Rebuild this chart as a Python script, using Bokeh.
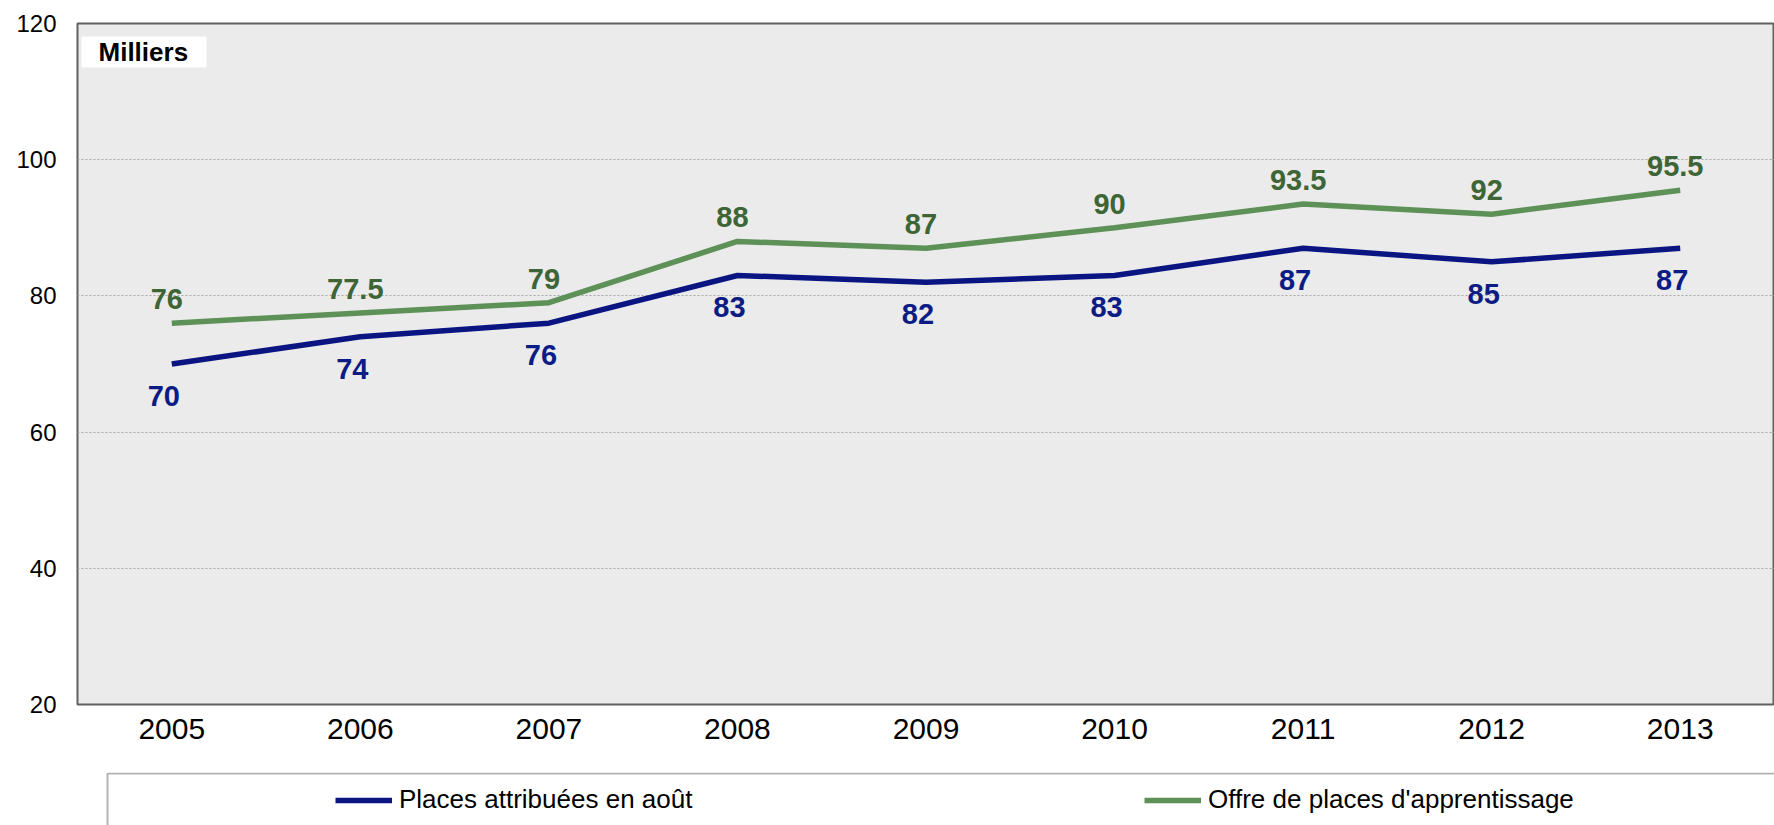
from bokeh.plotting import figure
from bokeh.layouts import column
from bokeh.models import (FactorRange, Range1d, FixedTicker, Legend, LegendItem,
                          Label, LabelSet, BoxAnnotation, ColumnDataSource)
from bokeh.embed import file_html
from bokeh.resources import INLINE
from bokeh.core.properties import value

# ---- data ----
years = ["2005", "2006", "2007", "2008", "2009", "2010", "2011", "2012", "2013"]
places = [70, 74, 76, 83, 82, 83, 87, 85, 87]
offre = [76, 77.5, 79, 88, 87, 90, 93.5, 92, 95.5]
places_labels = ["70", "74", "76", "83", "82", "83", "87", "85", "87"]
offre_labels = ["76", "77.5", "79", "88", "87", "90", "93.5", "92", "95.5"]
y_ticks = [20, 40, 60, 80, 100, 120]
grid_ticks = [40, 60, 80, 100]
series_names = ["Places attribuées en août", "Offre de places d'apprentissage"]
unit_label = "Milliers"

BLUE = "#0A1582"
BLUE_TXT = "#0C1C85"
GREEN = "#5E9157"
GREEN_TXT = "#3D6535"
FONT = "Liberation Sans"

src = ColumnDataSource(dict(year=years, places=places, offre=offre,
                            places_lbl=places_labels, offre_lbl=offre_labels))

W = 1774
H_MAIN = 772
H_LEG = 53
LEFT = 77

p = figure(width=W, height=H_MAIN,
           x_range=FactorRange(*years, range_padding=0),
           y_range=Range1d(20, 120),
           output_backend="svg", toolbar_location=None,
           min_border_left=LEFT, min_border_right=0,
           min_border_top=23, min_border_bottom=68)

p.background_fill_color = "#EBEBEB"
p.border_fill_color = "white"
p.outline_line_color = "#606060"
p.outline_line_width = 2

# grid
p.xgrid.grid_line_color = None
p.ygrid.ticker = FixedTicker(ticks=grid_ticks)
p.ygrid.grid_line_color = "#A6A6A6"
p.ygrid.grid_line_dash = "2 2"
p.ygrid.grid_line_width = 1

# axes
p.yaxis.ticker = FixedTicker(ticks=y_ticks)
p.yaxis.major_label_text_font = FONT
p.yaxis.major_label_text_font_size = "24px"
p.yaxis.major_label_text_color = "black"
p.yaxis.major_tick_line_color = None
p.yaxis.major_tick_out = 0
p.yaxis.major_tick_in = 0
p.yaxis.minor_tick_line_color = None
p.yaxis.minor_tick_out = 0
p.yaxis.axis_line_color = None
p.yaxis.major_label_standoff = 21

p.xaxis.major_label_text_font = FONT
p.xaxis.major_label_text_font_size = "30px"
p.xaxis.major_label_text_color = "black"
p.xaxis.major_tick_line_color = None
p.xaxis.major_tick_out = 0
p.xaxis.major_tick_in = 0
p.xaxis.minor_tick_line_color = None
p.xaxis.minor_tick_out = 0
p.xaxis.axis_line_color = None
p.xaxis.major_label_standoff = 14

# lines
r1 = p.line(x="year", y="places", source=src, line_color=BLUE, line_width=5.5)
r2 = p.line(x="year", y="offre", source=src, line_color=GREEN, line_width=5.5)

# data labels
p.add_layout(LabelSet(x="year", y="places", text="places_lbl", source=src,
                      x_offset=-8, y_offset=-32, text_align="center",
                      text_baseline="middle", text_font=value(FONT),
                      text_font_size="29px", text_font_style="bold",
                      text_color=BLUE_TXT))
p.add_layout(LabelSet(x="year", y="offre", text="offre_lbl", source=src,
                      x_offset=-5, y_offset=24, text_align="center",
                      text_baseline="middle", text_font=value(FONT),
                      text_font_size="29px", text_font_style="bold",
                      text_color=GREEN_TXT))

# "Milliers" box
p.add_layout(BoxAnnotation(left=4, right=129, top=668, bottom=637,
                           left_units="screen", right_units="screen",
                           top_units="screen", bottom_units="screen",
                           fill_color="white", fill_alpha=1, line_alpha=0))
p.add_layout(Label(x=21, y=652.5, x_units="screen", y_units="screen",
                   text=unit_label, text_font=FONT, text_font_size="26px",
                   text_font_style="bold", text_align="left",
                   text_baseline="middle", text_color="black"))

# ---- legend strip (frame aligned with the main plot's frame) ----
p2 = figure(width=W, height=H_LEG, x_range=Range1d(LEFT, W), y_range=Range1d(0, H_LEG),
            output_backend="svg", toolbar_location=None,
            x_axis_location=None, y_axis_location=None,
            min_border_left=LEFT, min_border_right=0,
            min_border_top=0, min_border_bottom=0)
p2.grid.visible = False
p2.outline_line_color = None
p2.background_fill_color = "white"
p2.border_fill_color = "white"

# legend proxies: same series, drawn out of this strip's view (values > H_LEG)
idx = list(range(len(years)))
lg1 = p2.line(x=idx, y=places, line_color=BLUE, line_width=5.5)
lg2 = p2.line(x=idx, y=offre, line_color=GREEN, line_width=5.5)

# legend frame (left and top edges visible, the rest runs off the page)
p2.add_layout(BoxAnnotation(left=107, right=W + 200, top=H_LEG - 1, bottom=-200,
                            fill_alpha=0, line_color="black", line_width=2))

legend = Legend(items=[LegendItem(label=series_names[0], renderers=[lg1]),
                       LegendItem(label=series_names[1], renderers=[lg2])],
                orientation="horizontal", location=(335 - LEFT, 10),
                padding=0, margin=0, spacing=0,
                glyph_width=57, glyph_height=30, label_height=30,
                label_width=745, label_standoff=7,
                label_text_font=FONT, label_text_font_size="26px",
                label_text_color="black",
                border_line_alpha=0, background_fill_alpha=0)
p2.add_layout(legend)

layout = column(p, p2, spacing=0)
open("out.html", "w").write(file_html(layout, INLINE))
